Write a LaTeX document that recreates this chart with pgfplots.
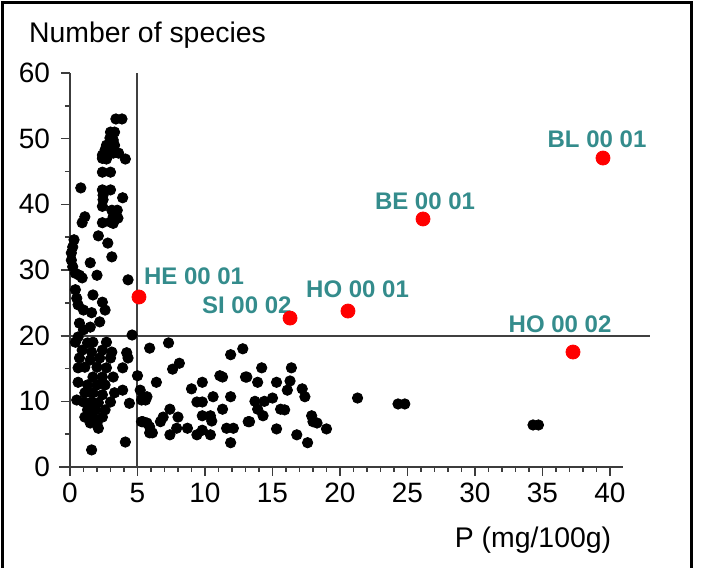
\documentclass[border=0pt]{standalone}
\usepackage{pgfplots}
\pgfplotsset{compat=1.18}
\usepackage{fontspec}
\setmainfont{Liberation Sans}
\definecolor{teallab}{RGB}{52,140,140}
\definecolor{axgray}{RGB}{60,60,60}
\begin{document}
\begin{tikzpicture}
\useasboundingbox (-35pt,-50.5pt) rectangle (319.5pt,233.5pt);
\begin{axis}[
  scale only axis, width=276.75pt, height=197pt,
  xmin=0, xmax=41, ymin=0, ymax=60,
  axis lines=left, axis line style={-, line width=0.75pt, axgray},
  xtick={0,5,...,40}, ytick={0,10,...,60},
  minor x tick num=4, minor y tick num=1,
  tick align=outside, major tick length=4.5pt, minor tick length=2.5pt,
  tick style={line width=0.7pt, axgray},
  /pgf/number format/assume math mode=true,
  ticklabel style={font=\fontsize{14}{16}\selectfont},
  yticklabel style={xshift=-2pt},
  clip=false,
]
\draw[line width=0.75pt, axgray] (axis cs:-0.8,0) -- (axis cs:0,0);
\draw[line width=1pt, black!75] (axis cs:5,0) -- (axis cs:5,60);
\draw[line width=1pt, black!75] (axis cs:-0.7,20) -- (axis cs:43,20);
\addplot[only marks, mark=*, mark size=2.6pt, black] coordinates {
(3.4,53.0) (3.85,53.0) (3.0,51.0) (3.3,51.0) (2.96,50.1) (3.2,49.8)
(2.7,49.0) (3.1,48.7) (3.3,49.0) (2.6,48.3) (2.9,48.0)
(2.4,47.5) (3.2,47.8) (3.6,47.8) (2.4,47.0) (2.7,46.9) (4.1,46.9)
(2.4,44.9) (3.0,44.9) (0.8,42.5) (2.4,42.2) (3.0,42.2)
(2.45,41.4) (2.45,40.7) (3.9,41.0) (2.4,39.7) (3.1,39.1) (3.5,39.1)
(3.2,38.1) (3.55,37.9) (1.1,38.1) (0.9,37.2) (3.0,37.3) (3.2,37.1) (2.4,37.2)
(2.1,35.2) (2.8,34.1)
(0.3,34.6) (0.2,33.5) (0.1,32.6) (0.1,31.5) (0.2,30.5) (0.4,29.5)
(1.5,31.1) (3.1,32.0) (2.0,29.2) (0.7,29.2) (4.3,28.5) (0.9,28.8)
(0.4,27.0) (0.5,25.7) (0.6,24.7) (1.7,26.2) (2.4,25.1) (2.6,23.9)
(1.0,23.9) (1.6,23.5) (2.2,22.1) (0.7,21.9) (1.0,20.9) (0.6,19.8)
(1.5,21.3) (4.6,20.1) (0.4,19.0) (1.3,18.9) (1.7,19.0) (2.7,19.0)
(5.9,18.1) (0.9,17.8) (1.6,17.5) (2.4,17.8) (3.1,17.5) (4.2,17.4) (4.3,16.6)
(0.7,16.6) (1.5,16.3) (2.2,16.6) (3.0,16.6) (1.1,15.2) (2.0,15.2) (2.7,15.1)
(3.9,15.1) (0.6,15.1) (1.7,13.7) (2.4,13.7) (3.2,13.7) (5.0,13.9) (6.4,12.9)
(0.6,12.9) (1.3,12.5) (2.0,12.5) (2.6,12.5)
(1.1,11.3) (1.7,11.3) (2.4,11.0) (3.3,11.3) (3.9,11.7) (5.7,10.7)
(0.5,10.2) (1.0,9.9) (1.6,9.9) (2.1,9.8) (3.0,9.9) (4.4,9.7) (5.3,10.2)
(1.3,8.7) (1.9,8.7) (2.6,8.7) (1.1,7.6) (1.7,7.6) (2.4,7.6)
(1.5,6.7) (2.0,6.7) (2.1,5.9) (5.3,6.9) (5.9,6.1) (5.9,5.2) (6.7,6.9)
(4.1,3.8) (1.6,2.6)
(7.3,18.9) (11.9,17.1) (12.8,18.0) (8.1,15.8) (7.6,14.9)
(11.1,13.9) (11.3,13.7) (13.0,13.7) (9.8,12.9) (9.0,11.9)
(5.2,11.7) (5.4,10.7) (5.6,10.2) (9.4,9.9) (9.8,9.9) (10.6,10.7) (11.9,10.7)
(11.3,8.8) (7.4,8.8) (8.0,7.6) (9.8,7.8) (10.4,7.8) (10.5,7.0)
(6.9,7.6) (5.4,6.9) (5.7,6.7) (6.1,5.2) (7.9,5.9) (8.7,5.9) (7.4,4.9)
(9.4,4.9) (10.4,4.9) (9.8,5.6) (11.6,5.9) (12.1,5.9) (11.9,3.7) (13.2,6.9)
(14.2,15.1) (16.4,15.1) (13.1,13.7) (13.9,12.9) (15.3,12.9) (16.3,13.1)
(16.1,11.7) (17.2,11.9) (17.4,10.7) (21.3,10.5)
(13.7,10.0) (14.4,10.0) (15.0,10.5) (13.9,8.8) (14.3,7.8) (15.6,8.8) (15.9,8.7)
(17.9,7.8) (18.0,6.9) (18.3,6.7) (13.3,6.9) (15.3,5.8) (16.8,4.9) (17.6,3.7) (19.0,5.8)
(24.3,9.6) (24.8,9.6) (34.3,6.4) (34.7,6.4)
};
\addplot[only marks, mark=*, mark size=3.5pt, red] coordinates {
(39.48,47.05) (26.15,37.77) (5.11,25.89) (16.3,22.68) (20.59,23.75) (37.26,17.51)
};
\begin{scope}[every node/.style={font=\fontsize{12}{14}\selectfont\bfseries, text=teallab}]
\node at (axis cs:39.04,49.9) {BL 00 01};
\node at (axis cs:26.3,40.5) {BE 00 01};
\node at (axis cs:9.19,29.1) {HE 00 01};
\node at (axis cs:13.1,24.7) {SI 00 02};
\node at (axis cs:21.3,27.1) {HO 00 01};
\node at (axis cs:36.3,21.8) {HO 00 02};
\end{scope}
\end{axis}
\node[font=\fontsize{14.2}{16}\selectfont] at (38.75pt,216pt) {Number of species};
\node[font=\fontsize{14.2}{16}\selectfont] at (231.5pt,-36.5pt) {P (mg/100g)};
\draw[line width=1.5pt] (-33.5pt,-60pt) -- (-33.5pt,232pt) -- (311pt,232pt) -- (311pt,-60pt);
\end{tikzpicture}
\end{document}
